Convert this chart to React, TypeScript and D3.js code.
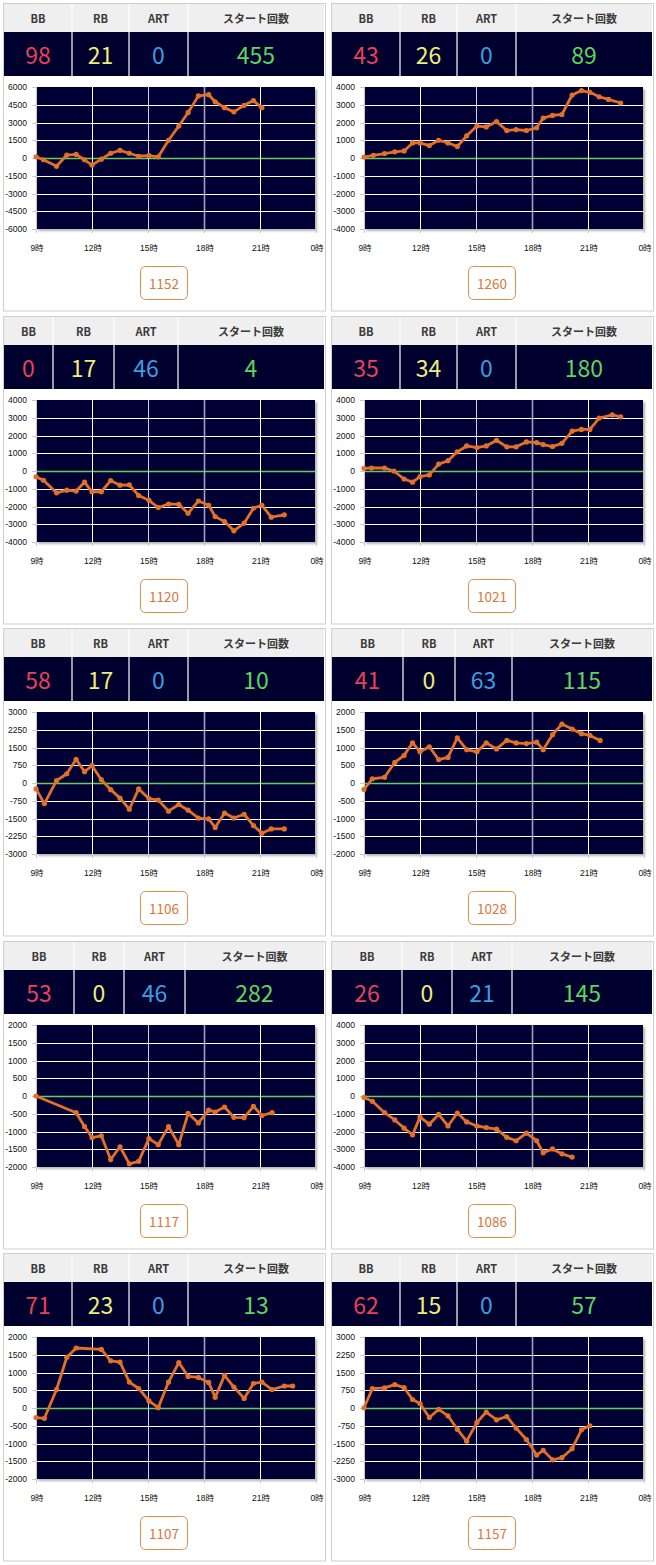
import React from "react";
import * as d3 from "d3";

// ---------- data ----------
const HEADERS = ["BB", "RB", "ART", "スタート回数"];
const BB = [98, 43, 0, 35, 58, 41, 53, 26, 71, 62];
const RB = [21, 26, 17, 34, 17, 0, 0, 0, 23, 15];
const ART = [0, 0, 46, 0, 0, 63, 46, 21, 0, 0];
const START = [455, 89, 4, 180, 10, 115, 282, 145, 13, 57];
const GAMES = [1152, 1260, 1120, 1021, 1106, 1028, 1117, 1086, 1107, 1157];
const Y_MAX = [6000, 4000, 4000, 4000, 3000, 2000, 2000, 4000, 2000, 3000];
const X_TICKS = [9, 12, 15, 18, 21, 24];
const X_LABELS = ["9時", "12時", "15時", "18時", "21時", "0時"];

const T1 = [9.0, 9.4, 10.1, 10.65, 11.15, 11.6, 12.0, 12.5, 13.0, 13.5, 14.0, 14.5, 15.05, 15.55, 16.1, 16.65, 17.15, 17.7, 18.25, 18.6, 19.1, 19.6, 20.15, 20.65, 21.1];
const V1 = [100, -150, -700, 250, 300, -150, -600, -100, 400, 650, 400, 150, 200, 100, 1500, 2700, 3850, 5250, 5350, 4750, 4250, 3900, 4450, 4850, 4250];

const T2 = [9.0, 9.5, 10.1, 10.65, 11.15, 11.6, 12.0, 12.5, 13.0, 13.5, 14.0, 14.5, 15.05, 15.55, 16.1, 16.65, 17.15, 17.7, 18.25, 18.6, 19.1, 19.6, 20.15, 20.65, 21.1, 21.6, 22.1, 22.75];
const V2 = [50, 150, 250, 350, 400, 850, 850, 700, 1000, 850, 650, 1250, 1800, 1750, 2050, 1550, 1600, 1550, 1700, 2250, 2400, 2450, 3550, 3800, 3700, 3450, 3300, 3100];

const T3 = [9.0, 9.4, 10.1, 10.65, 11.15, 11.6, 12.0, 12.5, 13.0, 13.5, 14.0, 14.5, 15.05, 15.55, 16.1, 16.65, 17.15, 17.7, 18.25, 18.6, 19.1, 19.6, 20.15, 20.65, 21.1, 21.6, 22.3];
const V3 = [-330, -520, -1230, -1080, -1130, -630, -1170, -1170, -540, -800, -780, -1380, -1650, -2060, -1860, -1880, -2380, -1690, -1930, -2570, -2850, -3370, -2940, -2100, -1930, -2600, -2470];

const T4 = [9.0, 9.4, 10.1, 10.6, 11.15, 11.6, 12.0, 12.5, 13.0, 13.5, 14.0, 14.5, 15.05, 15.55, 16.1, 16.65, 17.15, 17.7, 18.25, 18.6, 19.1, 19.6, 20.15, 20.65, 21.1, 21.6, 22.3, 22.75];
const V4 = [150, 170, 170, 0, -450, -630, -320, -220, 390, 580, 1080, 1410, 1320, 1410, 1730, 1360, 1360, 1640, 1600, 1490, 1380, 1560, 2250, 2340, 2340, 2980, 3160, 3050];

const T5 = [9.0, 9.45, 10.1, 10.65, 11.15, 11.6, 12.0, 12.5, 13.0, 13.5, 14.0, 14.5, 15.05, 15.55, 16.1, 16.65, 17.15, 17.7, 18.25, 18.6, 19.1, 19.6, 20.15, 20.65, 21.1, 21.6, 22.3];
const V5 = [-250, -870, 100, 390, 1000, 480, 730, 140, -280, -640, -1110, -250, -660, -720, -1190, -910, -1150, -1480, -1520, -1880, -1270, -1480, -1320, -1800, -2120, -1940, -1940];

const T6 = [9.0, 9.45, 10.1, 10.65, 11.15, 11.6, 12.0, 12.5, 13.0, 13.5, 14.0, 14.5, 15.05, 15.55, 16.1, 16.65, 17.15, 17.7, 18.25, 18.6, 19.1, 19.6, 20.15, 20.65, 21.1, 21.65];
const V6 = [-180, 120, 160, 580, 780, 1130, 880, 1020, 660, 720, 1270, 940, 880, 1130, 960, 1200, 1130, 1110, 1150, 940, 1360, 1660, 1520, 1390, 1340, 1200];

const T7 = [9.0, 11.15, 11.6, 12.0, 12.5, 13.0, 13.5, 14.0, 14.5, 15.05, 15.55, 16.1, 16.65, 17.15, 17.7, 18.25, 18.6, 19.1, 19.6, 20.15, 20.65, 21.1, 21.65];
const V7 = [0, -470, -860, -1170, -1120, -1790, -1430, -1910, -1840, -1200, -1370, -860, -1370, -490, -760, -400, -450, -310, -600, -610, -290, -550, -470];

const T8 = [9.0, 9.45, 10.1, 10.65, 11.15, 11.6, 12.0, 12.5, 13.0, 13.5, 14.0, 14.5, 15.05, 15.55, 16.1, 16.65, 17.15, 17.7, 18.25, 18.6, 19.1, 19.6, 20.15];
const V8 = [-80, -300, -940, -1350, -1810, -2190, -1190, -1590, -1040, -1690, -960, -1460, -1690, -1780, -1870, -2330, -2520, -2090, -2520, -3200, -2980, -3260, -3440];

const T9 = [9.0, 9.45, 10.1, 10.65, 11.15, 12.5, 13.0, 13.5, 14.0, 14.5, 15.05, 15.55, 16.1, 16.65, 17.15, 17.7, 18.25, 18.6, 19.1, 19.6, 20.15, 20.65, 21.1, 21.65, 22.3, 22.75];
const V9 = [-270, -290, 520, 1430, 1690, 1650, 1330, 1290, 730, 550, 200, 10, 730, 1280, 890, 860, 720, 300, 920, 590, 270, 690, 730, 520, 620, 620];

const T10 = [9.0, 9.45, 10.1, 10.65, 11.15, 11.6, 12.0, 12.5, 13.0, 13.5, 14.0, 14.5, 15.05, 15.55, 16.1, 16.65, 17.15, 17.7, 18.25, 18.6, 19.1, 19.6, 20.15, 20.65, 21.1];
const V10 = [10, 820, 850, 990, 860, 360, 190, -400, -60, -330, -900, -1400, -610, -170, -500, -360, -850, -1330, -1990, -1790, -2190, -2100, -1720, -920, -750];

const TIMES = [T1, T2, T3, T4, T5, T6, T7, T8, T9, T10];
const VALUES = [V1, V2, V3, V4, V5, V6, V7, V8, V9, V10];

// ---------- layout (table column split offsets, px from table left) ----------
const COL_SPLITS = [
  [68, 125, 184], [68, 125, 184],
  [49, 110, 174], [68, 125, 184],
  [68, 125, 184], [71, 123, 180],
  [70, 120, 181], [70, 120, 180],
  [68, 125, 184], [68, 125, 184],
];

const VALUE_COLORS = ["#e8425a", "#eeee7a", "#3a9ee0", "#5cd65c"];
const JP = "'Noto Sans CJK JP', 'Noto Sans', sans-serif";
const AX = "'Liberation Sans', 'Noto Sans CJK JP', sans-serif";

const PL = 36, PR = 315, PT = 87, PB = 229;

function Panel({ i }: { i: number }) {
  const ox = (i % 2) * 328;
  const oy = Math.round(Math.floor(i / 2) * 312.5);
  const x = d3.scaleLinear().domain([9, 24]).range([PL, 316]);
  const m = Y_MAX[i];
  const y = d3.scaleLinear().domain([-m, m]).range([PB, PT]);
  const yTicks = d3.range(-4, 5).map((k) => (k * m) / 4);
  const pts = TIMES[i].map((t, k) => [t, VALUES[i][k]] as [number, number]);
  const line = d3.line<[number, number]>().x((d) => x(d[0])).y((d) => y(d[1]));
  const splits = COL_SPLITS[i];
  const edges = [4, 4 + splits[0], 4 + splits[1], 4 + splits[2], 324];
  const vals = [BB[i], RB[i], ART[i], START[i]];
  const vColor = (t: number) => (t === 15 ? "#d0d0ea" : t === 18 ? "#a0a0c4" : "#ffffff");
  const py = (v: number) => Math.round(y(v)) + 0.5;
  const px = (t: number) => Math.round(x(t)) + 0.5;

  return (
    <g transform={`translate(${ox},${oy})`}>
      <rect x={3.5} y={3.5} width={322} height={307.5} fill="#fff" stroke="#cfcfcf" />
      {/* table */}
      <rect x={4} y={4} width={320} height={28} fill="#efefef" />
      <rect x={4} y={32} width={320} height={44} fill="#00002e" />
      {edges.slice(1, 4).map((e, k) => (
        <line key={k} x1={e} x2={e} y1={4} y2={76} stroke="#fff" strokeWidth={1.2} />
      ))}
      {HEADERS.map((h, k) => (
        <text key={"h" + k} x={(edges[k] + edges[k + 1]) / 2} y={18} textAnchor="middle"
          dominantBaseline="central" fontFamily={JP} fontSize={11} fontWeight={700} fill="#3a3a3a">{h}</text>
      ))}
      {vals.map((v, k) => (
        <text key={"v" + k} x={(edges[k] + edges[k + 1]) / 2} y={54} textAnchor="middle"
          dominantBaseline="central" fontFamily={JP} fontSize={23} fill={VALUE_COLORS[k]}>{v}</text>
      ))}
      {/* plot */}
      <rect x={PL} y={PT} width={PR - PL} height={PB - PT} fill="#000034" filter="url(#shadow)" />
      {yTicks.slice(1, -1).map((t) => (
        <line key={"gy" + t} x1={PL} x2={PR} y1={py(t)} y2={py(t)}
          stroke={t === 0 ? "#6acb5a" : "#ffffff"} strokeWidth={t === 0 ? 1.4 : 1} />
      ))}
      {X_TICKS.slice(1, -1).map((t) => (
        <line key={"gx" + t} x1={px(t)} x2={px(t)} y1={PT} y2={PB}
          stroke={vColor(t)} strokeWidth={t === 18 ? 1.6 : 1} />
      ))}
      <line x1={PL + 0.5} x2={PL + 0.5} y1={PT} y2={PB + 4} stroke="#c8c8c8" />
      {yTicks.map((t) => (
        <g key={"ty" + t}>
          <line x1={PL - 4} x2={PL} y1={py(t)} y2={py(t)} stroke="#c8c8c8" />
          <text x={27} y={y(t)} textAnchor="end" dominantBaseline="central"
            fontFamily={AX} fontSize={8.5} fill="#111">{t}</text>
        </g>
      ))}
      {X_TICKS.map((t, k) => (
        <g key={"tx" + t}>
          <line x1={px(t)} x2={px(t)} y1={PB} y2={PB + 4} stroke="#c8c8c8" />
          <text x={x(t) + 1} y={248} textAnchor="middle" dominantBaseline="central"
            fontFamily={AX} fontSize={8.5} fill="#111">{X_LABELS[k]}</text>
        </g>
      ))}
      <path d={line(pts) || ""} fill="none" stroke="#e2702a" strokeWidth={2.8} strokeLinejoin="round" />
      {pts.map((p, k) => (
        <circle key={"c" + k} cx={x(p[0])} cy={y(p[1])} r={2.6} fill="#e2702a" />
      ))}
      {/* button */}
      <rect x={140.5} y={266.5} width={47} height={33} rx={5} fill="#fff" stroke="#de8c4c" />
      <text x={164} y={283} textAnchor="middle" dominantBaseline="central"
        fontFamily={JP} fontSize={13.5} fill="#d9773c">{GAMES[i]}</text>
    </g>
  );
}

export default function App() {
  return (
    <div style={{ position: "absolute", left: 0, top: 0 }}>
      <svg width={656} height={1565} style={{ display: "block" }}>
        <defs>
          <filter id="shadow" x="-5%" y="-5%" width="115%" height="115%">
            <feDropShadow dx={2} dy={2} stdDeviation={1.2} floodColor="#777" floodOpacity={0.55} />
          </filter>
        </defs>
        <rect width={656} height={1565} fill="#fff" />
        {d3.range(10).map((i) => (
          <Panel key={i} i={i} />
        ))}
      </svg>
    </div>
  );
}
